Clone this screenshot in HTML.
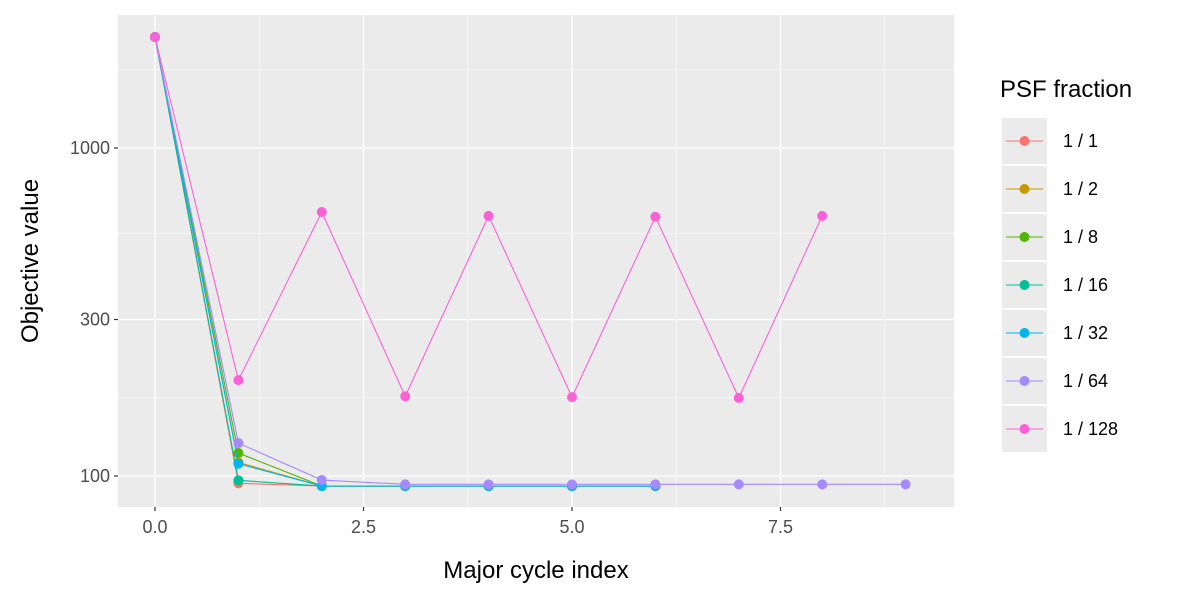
<!DOCTYPE html>
<html><head><meta charset="utf-8"><style>body{margin:0;background:#fff}svg{display:block;font-family:"Liberation Sans",sans-serif}</style></head>
<body>
<svg id="chart" width="1200" height="600"></svg>
<script>
const seriesNames=["1 / 1","1 / 2","1 / 8","1 / 16","1 / 32","1 / 64","1 / 128"];
const colors=["#F8766D","#C49A00","#53B400","#00C094","#00B6EB","#A58AFF","#FB61D7"];
const s1=[2180,95,93.2,93.2,93.2,93.2,93.2];
const s2=[2180,110,93.2,93.2,93.2,93.2,93.2];
const s8=[2180,117.5,93.2,93.2,93.2,93.2,93.2];
const s16=[2180,97,93.2,93.2,93.2,93.2,93.2];
const s32=[2180,109,93.2,93.2,93.2,93.2,93.2];
const s64=[2180,126,97.2,94.3,94.3,94.3,94.3,94.3,94.3,94.3];
const s128=[2180,196,638,175,621,174,617,173,621];
const series=[s1,s2,s8,s16,s32,s64,s128];
const xTicks=[0,2.5,5,7.5];
const xTickLabels=["0.0","2.5","5.0","7.5"];
const yTicks=[100,300,1000];
const yTickLabels=["100","300","1000"];
const yMinor=[173.2,547.7,1732];
const NS="http://www.w3.org/2000/svg";
const svg=document.getElementById('chart');
const L=118,R=954,T=15,B=507;
const X=v=>155+v*83.4;
const Y=v=>476-(Math.log10(v)-2)*328;
function mk(t,a,p){const e=document.createElementNS(NS,t);for(const k in a)e.setAttribute(k,a[k]);(p||svg).appendChild(e);return e;}
const panel=mk('rect',{x:L,y:T,width:R-L,height:B-T,fill:'#EBEBEB'});


[1.25,3.75,6.25,8.75].forEach(v=>{const l=mk('line',{x1:X(v),x2:X(v),y1:T,y2:B,stroke:'#fff','stroke-width':0.6});});
yMinor.forEach(v=>{const l=mk('line',{x1:L,x2:R,y1:Y(v),y2:Y(v),stroke:'#fff','stroke-width':0.6});});
xTicks.forEach((v,i)=>{const l=mk('line',{x1:X(v),x2:X(v),y1:T,y2:B,stroke:'#fff','stroke-width':1.3});
 const k=mk('line',{x1:X(v),x2:X(v),y1:B,y2:B+4,stroke:'#333','stroke-width':1.2});
 const t=mk('text',{x:X(v),y:B+26,'text-anchor':'middle','font-size':18,fill:'#4D4D4D'});t.textContent=xTickLabels[i];});
yTicks.forEach((v,i)=>{const l=mk('line',{x1:L,x2:R,y1:Y(v),y2:Y(v),stroke:'#fff','stroke-width':1.3});
 const k=mk('line',{x1:L-4,x2:L,y1:Y(v),y2:Y(v),stroke:'#333','stroke-width':1.2});
 const t=mk('text',{x:L-8,y:Y(v)+6,'text-anchor':'end','font-size':18,fill:'#4D4D4D'});t.textContent=yTickLabels[i];});
series.forEach((s,i)=>{const g=mk('g',{});
 const p=mk('polyline',{points:s.map((v,j)=>X(j)+','+Y(v)).join(' '),fill:'none',stroke:colors[i],'stroke-width':1.1},g);
 s.forEach((v,j)=>{const c=mk('circle',{cx:X(j),cy:Y(v),r:5,fill:colors[i]},g);});});
const xt=mk('text',{x:536,y:578,'text-anchor':'middle','font-size':24,fill:'#000'});xt.textContent='Major cycle index';
const yt=mk('text',{x:0,y:0,'text-anchor':'middle','font-size':24,fill:'#000',transform:'translate(38,261) rotate(-90)'});yt.textContent='Objective value';
const lg=mk('g',{});
const lt=mk('text',{x:1000,y:97,'font-size':24,fill:'#000'},lg);lt.textContent='PSF fraction';
seriesNames.forEach((n,i)=>{const y=118+i*48;const e=mk('g',{},lg);
 mk('rect',{x:1002,y:y,width:45,height:46,fill:'#EBEBEB'},e);
 mk('line',{x1:1006,x2:1043,y1:y+23,y2:y+23,stroke:colors[i],'stroke-width':1.1},e);
 mk('circle',{cx:1024.5,cy:y+23,r:5,fill:colors[i]},e);
 const t=mk('text',{x:1063,y:y+29,'font-size':18,fill:'#000'},e);t.textContent=n;});
</script>
</body></html>
